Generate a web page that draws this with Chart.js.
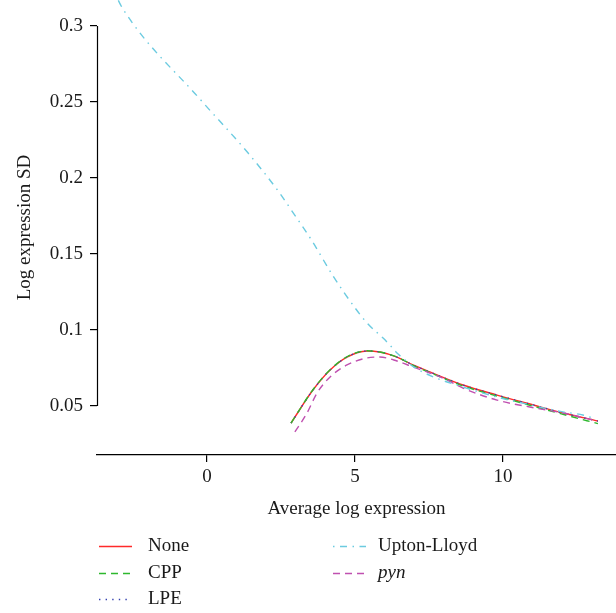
<!DOCTYPE html>
<html>
<head>
<meta charset="utf-8">
<script src="https://cdn.jsdelivr.net/npm/chart.js@4/dist/chart.umd.min.js"></script>
<style>
  html, body { margin: 0; padding: 0; background: #ffffff; }
  #wrap { width: 616px; height: 613px; position: relative; }
</style>
</head>
<body>
<div id="wrap"><canvas id="c" width="616" height="613"></canvas></div>
<script>
// ---- Data ----
const xTicks = [0, 5, 10];
const yTicks = [0.05, 0.1, 0.15, 0.2, 0.25, 0.3];
const xTitle = 'Average log expression';
const yTitle = 'Log expression SD';

const seriesNames = ['None', 'CPP', 'LPE', 'Upton-Lloyd', 'pyn'];

const noneX = [2.84, 3.58, 4.16, 4.73, 5.41, 5.84, 6.42, 6.96, 7.53, 8.65, 9.80, 10.91, 12.03, 13.21];
const noneY = [0.0388, 0.0605, 0.0737, 0.0822, 0.0862, 0.0855, 0.0822, 0.0770, 0.0724, 0.0638, 0.0572, 0.0513, 0.0454, 0.0401];

const cppX = [2.84, 3.58, 4.16, 4.73, 5.41, 5.84, 6.42, 6.96, 7.53, 8.65, 9.80, 10.91, 12.03, 13.21];
const cppY = [0.0388, 0.0607, 0.0739, 0.0824, 0.0863, 0.0855, 0.0822, 0.0768, 0.0720, 0.0632, 0.0565, 0.0505, 0.0445, 0.0384];

const lpeX = [2.84, 3.58, 4.16, 4.73, 5.41, 5.84, 6.42, 6.96, 7.53, 8.65, 9.80, 10.91, 12.03, 13.21];
const lpeY = [0.0388, 0.0605, 0.0737, 0.0822, 0.0862, 0.0855, 0.0822, 0.0770, 0.0724, 0.0638, 0.0572, 0.0513, 0.0454, 0.0401];

const uplX = [-3.10, -2.84, -0.21, 1.39, 2.43, 2.80, 3.55, 4.26, 5.03, 5.44, 5.95, 6.18, 6.42, 6.69, 6.96, 7.64, 8.65, 9.80, 10.91, 12.03, 12.70, 13.04];
const uplY = [0.3210, 0.3112, 0.2513, 0.2164, 0.1908, 0.1803, 0.1586, 0.1355, 0.1138, 0.1039, 0.0947, 0.0901, 0.0849, 0.0803, 0.0760, 0.0692, 0.0625, 0.0559, 0.0508, 0.0461, 0.0441, 0.0421];

const pynX = [2.97, 3.38, 3.72, 4.16, 4.73, 5.41, 5.84, 6.42, 6.96, 7.53, 8.11, 8.65, 9.80, 10.91, 12.03, 13.04];
const pynY = [0.0329, 0.0454, 0.0586, 0.0691, 0.0770, 0.0816, 0.0822, 0.0796, 0.0757, 0.0717, 0.0671, 0.0618, 0.0539, 0.0493, 0.0454, 0.0408];

// ---- Styles ----
const FONT = '"Liberation Serif", "DejaVu Serif", serif';
const FS = 19;
const styles = [
  { color: '#ff2a2a', dash: [] },
  { color: '#2eb82e', dash: [7, 5] },
  { color: '#3340b0', dash: [1.4, 5.2] },
  { color: '#6ccbe0', dash: [1.5, 5.5, 7, 5.5] },
  { color: '#c050b0', dash: [7, 5] }
];

function pts(xs, ys) { return xs.map((x, i) => ({ x: x, y: ys[i] })); }
const allX = [noneX, cppX, lpeX, uplX, pynX];
const allY = [noneY, cppY, lpeY, uplY, pynY];

// draw order: upton-lloyd, pyn, cpp, lpe, none on top
const drawOrder = [3, 4, 1, 2, 0];
const datasets = drawOrder.map(i => ({
  label: seriesNames[i],
  data: pts(allX[i], allY[i]),
  borderColor: styles[i].color,
  borderDash: styles[i].dash,
  borderWidth: 1.4,
  pointRadius: 0,
  showLine: true,
  fill: false,
  cubicInterpolationMode: 'monotone'
}));

const axisPlugin = {
  id: 'axisPlugin',
  afterDraw(chart) {
    const ctx = chart.ctx;
    const ys = chart.scales.y;
    const ca = chart.chartArea;
    ctx.save();
    // y axis line from first to last tick
    ctx.strokeStyle = '#000';
    ctx.lineWidth = 1.2;
    ctx.beginPath();
    const x0 = Math.round(ca.left) + 0.5;
    ctx.moveTo(x0, ys.getPixelForValue(yTicks[0]));
    ctx.lineTo(x0, ys.getPixelForValue(yTicks[yTicks.length - 1]));
    ctx.stroke();
    // legend
    const cols = [{ lx: 99, tx: 148 }, { lx: 333, tx: 378 }];
    const rows = [546, 573, 599];
    const place = [[0, 0], [0, 1], [0, 2], [1, 0], [1, 1]];
    ctx.textBaseline = 'middle';
    ctx.fillStyle = '#1a1a1a';
    seriesNames.forEach((name, i) => {
      const c = cols[place[i][0]], y = rows[place[i][1]];
      ctx.strokeStyle = styles[i].color;
      ctx.setLineDash(styles[i].dash);
      ctx.lineWidth = 1.4;
      ctx.beginPath();
      ctx.moveTo(c.lx, y + 0.5);
      ctx.lineTo(c.lx + 33, y + 0.5);
      ctx.stroke();
      ctx.setLineDash([]);
      ctx.font = (name === 'pyn' ? 'italic ' : '') + FS + 'px ' + FONT;
      ctx.fillText(name, c.tx, y);
    });
    ctx.restore();
  }
};

new Chart(document.getElementById('c'), {
  type: 'scatter',
  data: { datasets: datasets },
  plugins: [axisPlugin],
  options: {
    responsive: false,
    animation: false,
    devicePixelRatio: 1,
    layout: { padding: { left: 0, right: 0, top: 0, bottom: 93 } },
    plugins: { legend: { display: false }, tooltip: { enabled: false } },
    scales: {
      x: {
        type: 'linear',
        min: -3.716,
        max: 13.82,
        afterBuildTicks(s) { s.ticks = xTicks.map(v => ({ value: v })); },
        afterFit(s) { s.height = 65; s.paddingLeft = 0; s.paddingRight = 0; },
        border: { display: true, color: '#000', width: 1.2 },
        grid: { drawOnChartArea: false, drawTicks: true, tickLength: 7, color: '#000', lineWidth: 1.2 },
        ticks: { color: '#1a1a1a', font: { family: FONT, size: FS }, padding: 4, maxRotation: 0 },
        title: { display: true, text: xTitle, color: '#1a1a1a', font: { family: FONT, size: FS }, padding: { top: 0, bottom: 0 } }
      },
      y: {
        type: 'linear',
        min: 0.01776,
        max: 0.3171,
        afterBuildTicks(s) { s.ticks = yTicks.map(v => ({ value: v })); },
        afterFit(s) { s.width = 97; s.paddingTop = 0; s.paddingBottom = 0; },
        border: { display: false },
        grid: { drawOnChartArea: false, drawTicks: true, tickLength: 7, color: '#000', lineWidth: 1.2 },
        ticks: { color: '#1a1a1a', font: { family: FONT, size: FS }, padding: 7, callback: v => String(v) },
        title: { display: true, text: yTitle, color: '#1a1a1a', font: { family: FONT, size: FS }, padding: { top: 14, bottom: 0 } }
      }
    }
  }
});
</script>
</body>
</html>
